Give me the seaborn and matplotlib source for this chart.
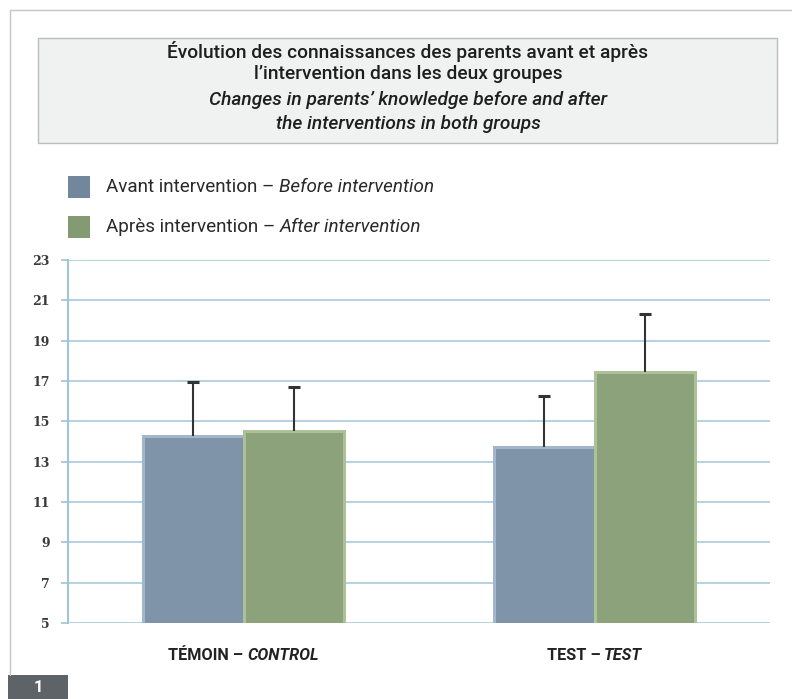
import matplotlib
matplotlib.use("Agg")
import matplotlib.pyplot as plt
import seaborn as sns
import pandas as pd
from matplotlib.lines import Line2D
from matplotlib.patches import Rectangle

# ---- data ----
groups_fr = ["TÉMOIN", "TEST"]
groups_en = ["CONTROL", "TEST"]
phases_fr = ["Avant intervention", "Après intervention"]
phases_en = ["Before intervention", "After intervention"]
before_means = [14.25, 13.75]
after_means = [14.5, 17.45]
before_sd = [2.7, 2.5]
after_sd = [2.2, 2.85]
y_ticks = [5, 7, 9, 11, 13, 15, 17, 19, 21, 23]
title_fr = ["Évolution des connaissances des parents avant et après",
            "l’intervention dans les deux groupes"]
title_en = ["Changes in parents’ knowledge before and after",
            "the interventions in both groups"]
panel_label = "1"

df = pd.DataFrame({
    "group": groups_fr * 2,
    "phase": [phases_fr[0]] * 2 + [phases_fr[1]] * 2,
    "value": before_means + after_means,
})
sds = [before_sd, after_sd]

sns.set_theme(style="white")
plt.rcParams["font.family"] = ["Roboto", "DejaVu Sans"]

W, H = 792, 699
fig = plt.figure(figsize=(W / 100, H / 100), dpi=100)
fig.patch.set_facecolor("white")

def fx(px):
    return px / W

def fy(py):
    return 1 - py / H

ax = fig.add_axes([fx(68), fy(623), fx(770) - fx(68), fy(260) - fy(623)])

bar_colors = ["#7f94a8", "#8ca27a"]
edge_colors = ["#a3b7cb", "#adc199"]
sns.barplot(data=df, x="group", y="value", hue="phase", order=groups_fr,
            hue_order=phases_fr, palette=bar_colors, width=0.57, ax=ax,
            errorbar=None, legend=False, saturation=1)

bar_conts = list(ax.containers)
for i, cont in enumerate(bar_conts):
    for j, bar in enumerate(cont):
        bar.set_edgecolor(edge_colors[i])
        bar.set_linewidth(2.2)
        bar.set_zorder(3)
        xc = bar.get_x() + bar.get_width() / 2
        top = bar.get_height() + sds[i][j]
        ax.vlines(xc, bar.get_height(), top, color="#333333", lw=1.5, zorder=4)
        ax.plot([xc], [top], marker="_", markersize=9, mew=2.2,
                color="#333333", zorder=4)

ax.set_ylim(5, 23)
ax.set_xlim(-0.5, 1.5)
ax.set_yticks(y_ticks)
ax.set_yticklabels([str(t) for t in y_ticks], fontsize=9, fontweight="bold",
                   color="#3a3a3a", family=["DejaVu Serif"])
ax.set_xticks([])
ax.set_xlabel("")
ax.set_ylabel("")
ax.tick_params(axis="y", length=5, width=1.2, color="#9cc4da", pad=8, left=True)
ax.grid(axis="y", color="#a9cadc", linewidth=1.2, zorder=0)
ax.set_axisbelow(True)
for s in ["top", "right", "bottom"]:
    ax.spines[s].set_visible(False)
ax.spines["left"].set_color("#9cc4da")
ax.spines["left"].set_linewidth(1.4)

# ---- helper for mixed-style text ----
renderer = fig.canvas.get_renderer()

def draw_pieces(x_px, y_px, pieces, ha="left", size=11, color="#222222"):
    texts = []
    for txt, style in pieces:
        t = fig.text(0, fy(y_px), txt, fontsize=size, color=color, va="center",
                     ha="left", **style)
        texts.append(t)
    widths = [t.get_window_extent(renderer).width for t in texts]
    total = sum(widths)
    x0 = x_px - total / 2 if ha == "center" else x_px
    for t, w in zip(texts, widths):
        t.set_x(fx(x0))
        x0 += w

# ---- frame decorations ----
fig.add_artist(Line2D([fx(10), fx(792)], [fy(10), fy(10)], color="#c4c4c4", lw=1))
fig.add_artist(Line2D([fx(10), fx(10)], [fy(10), fy(675)], color="#c4c4c4", lw=1))
fig.add_artist(Rectangle((fx(8), fy(699)), fx(60), fy(675) - fy(699),
                         facecolor="#5e6368", edgecolor="none"))
fig.text(fx(38), fy(688), panel_label, color="white", fontsize=12,
         fontweight="bold", ha="center", va="center")

# title box
fig.add_artist(Rectangle((fx(38), fy(143)), fx(777) - fx(38), fy(38) - fy(143),
                         facecolor="#f0f1f1", edgecolor="#bdbdbd", lw=1))
tsize = 13.8
fig.text(fx(408), fy(52), title_fr[0], ha="center", va="center", fontsize=tsize,
         fontweight="medium", color="#1e1e1e")
fig.text(fx(408), fy(74), title_fr[1], ha="center", va="center", fontsize=tsize,
         fontweight="medium", color="#1e1e1e")
fig.text(fx(408), fy(100), title_en[0], ha="center", va="center", fontsize=tsize,
         fontweight="medium", style="italic", color="#1e1e1e")
fig.text(fx(408), fy(124), title_en[1], ha="center", va="center", fontsize=tsize,
         fontweight="medium", style="italic", color="#1e1e1e")

# legend
leg_colors = ["#72879b", "#849a72"]
for k, ypx in enumerate([187, 227]):
    fig.add_artist(Rectangle((fx(68), fy(ypx + 11)), fx(22), fy(ypx - 11) - fy(ypx + 11),
                             facecolor=leg_colors[k], edgecolor="none"))
    draw_pieces(106, ypx, [(phases_fr[k] + " – ", {}),
                           (phases_en[k], {"style": "italic"})], size=13.6,
                color="#2a2a2a")

# x category labels
for j in range(len(groups_fr)):
    xpix = ax.transData.transform((j, 5))[0]
    draw_pieces(xpix, 655, [(groups_fr[j] + " – ", {"fontweight": "bold"}),
                            (groups_en[j], {"fontweight": "bold", "style": "italic"})],
                ha="center", size=11.7)

fig.savefig("out.png", dpi=100)
